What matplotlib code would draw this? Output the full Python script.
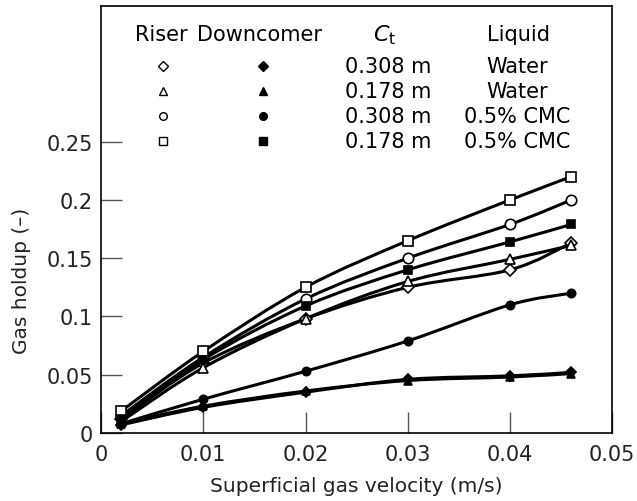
import matplotlib
matplotlib.use('Agg')
import matplotlib.pyplot as plt
from matplotlib.path import Path
from matplotlib.patches import PathPatch

# DATA
velocity = [0.002, 0.01, 0.02, 0.03, 0.04, 0.046]

riser_308_water = [0.012, 0.060, 0.098, 0.125, 0.140, 0.163]
riser_178_water = [0.010, 0.056, 0.098, 0.130, 0.149, 0.161]
riser_308_cmc = [0.015, 0.065, 0.115, 0.150, 0.179, 0.200]
riser_178_cmc = [0.019, 0.070, 0.125, 0.165, 0.200, 0.220]
down_308_water = [0.007, 0.022, 0.035, 0.046, 0.049, 0.052]
down_178_water = [0.008, 0.023, 0.036, 0.045, 0.048, 0.051]
down_308_cmc = [0.008, 0.029, 0.053, 0.079, 0.110, 0.120]
down_178_cmc = [0.012, 0.063, 0.109, 0.140, 0.164, 0.179]

legend_ct = ["0.308 m", "0.178 m", "0.308 m", "0.178 m"]
legend_liquid = ["Water", "Water", "0.5% CMC", "0.5% CMC"]
legend_markers = ["D", "^", "o", "s"]

x_ticks = [0, 0.01, 0.02, 0.03, 0.04, 0.05]
x_tick_labels = ["0", "0.01", "0.02", "0.03", "0.04", "0.05"]
y_ticks = [0, 0.05, 0.1, 0.15, 0.2, 0.25]
y_tick_labels = ["0", "0.05", "0.1", "0.15", "0.2", "0.25"]

plt.rcParams['font.family'] = ['DejaVu Sans']


def smooth_line(ax, xs, ys):
    # catmull-rom style bezier through the points (like a "smoothed line")
    pts = list(zip(xs, ys))
    n = len(pts)
    verts = [pts[0]]
    codes = [Path.MOVETO]
    for i in range(n - 1):
        p0 = pts[i - 1] if i > 0 else pts[i]
        p1 = pts[i]
        p2 = pts[i + 1]
        p3 = pts[i + 2] if i + 2 < n else pts[i + 1]
        c1 = (p1[0] + (p2[0] - p0[0]) / 6, p1[1] + (p2[1] - p0[1]) / 6)
        c2 = (p2[0] - (p3[0] - p1[0]) / 6, p2[1] - (p3[1] - p1[1]) / 6)
        verts += [c1, c2, p2]
        codes += [Path.CURVE4] * 3
    patch = PathPatch(Path(verts, codes), facecolor='none', edgecolor='black',
                      lw=2.2, zorder=2, capstyle='round', joinstyle='round')
    ax.add_patch(patch)


fig = plt.figure(figsize=(6.37, 5.02), dpi=100)
ax = fig.add_axes([0.1586, 0.1355, 0.8026, 0.8496])

series = [
    (riser_308_water, "D", "white", 6.5),
    (riser_178_water, "^", "white", 7.5),
    (riser_308_cmc, "o", "white", 7.5),
    (riser_178_cmc, "s", "white", 6.5),
    (down_308_water, "D", "black", 5),
    (down_178_water, "^", "black", 5.5),
    (down_308_cmc, "o", "black", 6),
    (down_178_cmc, "s", "black", 6),
]

for ys, m, fc, ms in series:
    smooth_line(ax, velocity, ys)
    ax.plot(velocity, ys, linestyle='none', marker=m, markerfacecolor=fc,
            markeredgecolor='black', markersize=ms, markeredgewidth=1.2, zorder=3)

ax.set_xlim(0, 0.05)
ax.set_ylim(0, 0.366)
ax.set_xticks(x_ticks)
ax.set_xticklabels(x_tick_labels)
ax.set_yticks(y_ticks)
ax.set_yticklabels(y_tick_labels)
ax.tick_params(direction='in', length=15, width=1, color='#555555',
               labelsize=15, colors='#222222', pad=8)
ax.tick_params(axis='y', pad=6)
for sp in ax.spines.values():
    sp.set_linewidth(1.2)

ax.set_xlabel('Superficial gas velocity (m/s)', fontsize=14.5, color='#222222')
ax.set_ylabel('Gas holdup (\u2013)', fontsize=14.5, color='#222222')
ax.xaxis.set_label_coords(0.5, -0.1)
ax.yaxis.set_label_coords(-0.137, 0.359)

# LEGEND TABLE
tr = ax.transAxes
ax.text(0.117, 0.936, "Riser", transform=tr, ha='center', va='center', fontsize=15)
ax.text(0.309, 0.936, "Downcomer", transform=tr, ha='center', va='center', fontsize=15)
ax.text(0.555, 0.936, r"$C_{\mathrm{t}}$", transform=tr, ha='center', va='center', fontsize=16)
ax.text(0.816, 0.936, "Liquid", transform=tr, ha='center', va='center', fontsize=15)
row_y = [0.8605, 0.802, 0.743, 0.685]
for i in range(4):
    ax.plot([0.121], [row_y[i]], transform=tr, marker=legend_markers[i], linestyle='none',
            markerfacecolor='white', markeredgecolor='black', markersize=5.5, markeredgewidth=1)
    ax.plot([0.317], [row_y[i]], transform=tr, marker=legend_markers[i], linestyle='none',
            markerfacecolor='black', markeredgecolor='black', markersize=5.5)
    ax.text(0.561, row_y[i], legend_ct[i], transform=tr, ha='center', va='center', fontsize=15)
    ax.text(0.814, row_y[i], legend_liquid[i], transform=tr, ha='center', va='center', fontsize=15)

fig.savefig('out.png', dpi=100)
